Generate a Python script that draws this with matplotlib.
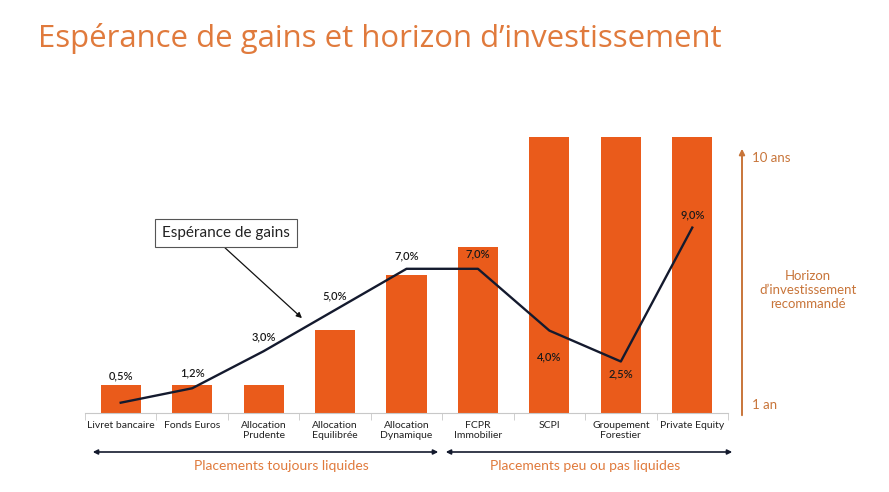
import matplotlib.pyplot as plt
import numpy as np

plt.rcParams['font.family'] = ['Lato', 'DejaVu Sans']

categories = ['Livret bancaire', 'Fonds Euros', 'Allocation\nPrudente', 'Allocation\nEquilibrée',
              'Allocation\nDynamique', 'FCPR\nImmobilier', 'SCPI', 'Groupement\nForestier', 'Private Equity']
horizon_years = [1, 1, 1, 3, 5, 6, 10, 10, 10]
expected_gain = [0.5, 1.2, 3.0, 5.0, 7.0, 7.0, 4.0, 2.5, 9.0]
gain_labels = ['0,5%', '1,2%', '3,0%', '5,0%', '7,0%', '7,0%', '4,0%', '2,5%', '9,0%']
# vertical offset of each label from its point, in pixels (style only)
label_offset_px = [27, 15, 14, 14, 13, 15, -26, -12, 13]

W, H = 889, 492
bar_color = '#EA5B1B'
title_color = '#E07A3C'
horizon_color = '#C8753A'
line_color = '#141A2E'


def fx(x):
    return x / W


def fy(y):
    return 1 - y / H


fig = plt.figure(figsize=(W / 100, H / 100), dpi=100)
ax = fig.add_axes([fx(85), fy(413), fx(728) - fx(85), (413 - 137) / H])

x = np.arange(len(categories))
ax.bar(x, horizon_years, width=0.56, color=bar_color, zorder=1)
ax.set_xlim(-0.5, len(categories) - 0.5)
ax.set_ylim(0, 10)
ax.set_yticks([])
for s in ['top', 'right', 'left']:
    ax.spines[s].set_visible(False)
ax.spines['bottom'].set_color('#C8C8C8')
ax.set_xticks(x)
ax.set_xticklabels(categories, fontsize=7.5, color='#222222', linespacing=1.15)
ax.tick_params(axis='x', length=0, pad=6)
ax.set_xticks(np.arange(-0.5, len(categories)), minor=True)
ax.tick_params(axis='x', which='minor', length=5, color='#C8C8C8')

ax2 = ax.twinx()
ax2.set_ylim(0, 276 / 20.6)
ax2.axis('off')
ax2.plot(x, expected_gain, color=line_color, lw=1.7, zorder=3)
for xi, v, lab, off in zip(x, expected_gain, gain_labels, label_offset_px):
    ax2.annotate(lab, (xi, v), xytext=(0, off * 0.72), textcoords='offset points',
                 ha='center', va='center', fontsize=8, color='#1A1A1A', fontweight='semibold')

# callout
fig.text(fx(226), fy(233), 'Espérance de gains', ha='center', va='center', fontsize=11,
         color='#222222',
         bbox=dict(boxstyle='square,pad=0.45', fc='white', ec='#555555', lw=0.8))
fig.add_artist(plt.Annotation('', xy=(fx(304), fy(320)), xytext=(fx(223), fy(246)),
                              xycoords='figure fraction', textcoords='figure fraction',
                              arrowprops=dict(arrowstyle='-|>', color='#111111', lw=0.9,
                                              mutation_scale=8)))

# title
fig.text(fx(38), fy(38), 'Espérance de gains et horizon d\u2019investissement', ha='left',
         va='center', fontsize=22.4, color=title_color, family=['Open Sans', 'DejaVu Sans'])

# horizon axis on the right
fig.add_artist(plt.Annotation('', xy=(fx(742), fy(146)), xytext=(fx(742), fy(418)),
                              xycoords='figure fraction', textcoords='figure fraction',
                              arrowprops=dict(arrowstyle='-|>', color=horizon_color, lw=1.4,
                                              mutation_scale=8)))
fig.text(fx(752), fy(158), '10 ans', ha='left', va='center', fontsize=9.5, color=horizon_color)
fig.text(fx(752), fy(405), '1 an', ha='left', va='center', fontsize=9.5, color=horizon_color)
fig.text(fx(808), fy(290), 'Horizon\nd\u2019investissement\nrecommandé', ha='center', va='center',
         fontsize=9.5, color=horizon_color, linespacing=1.2)

# liquidity arrows
for x0, x1 in [(90, 441), (443, 735)]:
    fig.add_artist(plt.Annotation('', xy=(fx(x1), fy(452)), xytext=(fx(x0), fy(452)),
                                  xycoords='figure fraction', textcoords='figure fraction',
                                  arrowprops=dict(arrowstyle='<|-|>', color=line_color, lw=1.2,
                                                  mutation_scale=7)))
fig.text(fx(281), fy(466), 'Placements toujours liquides', ha='center', va='center',
         fontsize=10, color=title_color)
fig.text(fx(585), fy(466), 'Placements peu ou pas liquides', ha='center', va='center',
         fontsize=10, color=title_color)

fig.savefig('out.png', dpi=100)
